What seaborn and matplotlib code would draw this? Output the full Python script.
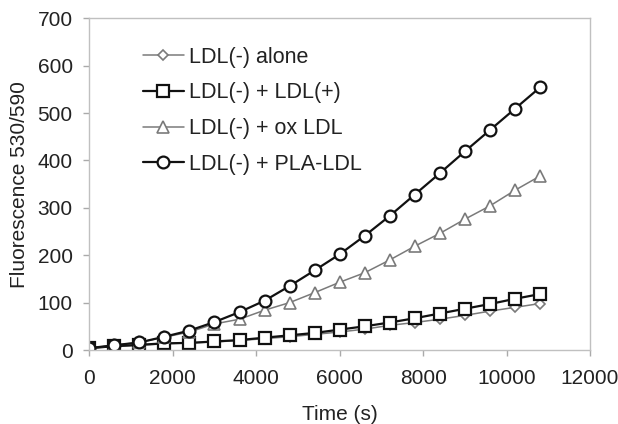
import matplotlib
matplotlib.use("Agg")
import matplotlib.pyplot as plt
import seaborn as sns
import numpy as np

sns.set_style("ticks")
plt.rcParams['font.family'] = ['Liberation Sans', 'DejaVu Sans']

time_s = [0, 600, 1200, 1800, 2400, 3000, 3600, 4200, 4800, 5400, 6000,
          6600, 7200, 7800, 8400, 9000, 9600, 10200, 10800]
ldl_alone = [4, 7, 10, 13, 15, 17, 20, 24, 28, 33, 38, 44, 52, 58, 65, 73, 82, 90, 98]
ldl_plus = [4, 8, 11, 14, 15, 18, 21, 26, 31, 36, 43, 50, 58, 67, 77, 87, 97, 108, 118]
ldl_ox = [4, 10, 16, 27, 38, 55, 65, 84, 100, 121, 143, 163, 190, 219, 246, 276, 304, 337, 367]
ldl_pla = [4, 10, 16, 28, 41, 59, 80, 104, 135, 168, 202, 241, 283, 328, 373, 419, 464, 509, 554]

labels = ["LDL(-) alone", "LDL(-) + LDL(+)", "LDL(-) + ox LDL", "LDL(-) + PLA-LDL"]
series = [ldl_alone, ldl_plus, ldl_ox, ldl_pla]
markers = ["D", "s", "^", "o"]
colors = ["#7a7a7a", "#111111", "#7a7a7a", "#111111"]
lws = [1.1, 1.6, 1.1, 1.6]
msizes = [5.5, 8, 8, 8.5]
mews = [1.2, 1.6, 1.2, 1.6]

fig = plt.figure(figsize=(6.18, 4.24), dpi=100)
ax = fig.add_axes([89.3 / 618, 1 - 350 / 424, (590 - 89.3) / 618, (350 - 18.3) / 424])

for lab, vals, mk, c, lw, ms, mew in zip(labels, series, markers, colors, lws, msizes, mews):
    sns.lineplot(x=time_s, y=vals, ax=ax, label=lab, color=c, linewidth=lw,
                 marker=mk, markersize=ms, markerfacecolor="white",
                 markeredgecolor=c, markeredgewidth=mew)

ax.set_xlim(0, 12000)
ax.set_ylim(0, 700)
ax.set_xticks(np.arange(0, 12001, 2000))
ax.set_yticks(np.arange(0, 701, 100))
ax.set_xlabel("Time (s)", fontsize=15, color="#222222", labelpad=12)
ax.set_ylabel("Fluorescence 530/590", fontsize=15, color="#222222", labelpad=6)
ax.tick_params(axis="both", labelsize=15, labelcolor="#222222", color="#aaaaaa",
               length=4, width=1, direction="out")
ax.tick_params(axis="x", pad=10)
ax.tick_params(axis="y", pad=8)
for sp in ax.spines.values():
    sp.set_visible(True)
    sp.set_color("#c0c0c0")
    sp.set_linewidth(1.0)

leg = ax.legend(loc="upper left", bbox_to_anchor=(0.09, 0.94), frameon=False,
                fontsize=15.5, handlelength=1.9, handletextpad=0.25,
                labelspacing=0.68, borderaxespad=0)
for t in leg.get_texts():
    t.set_color("#222222")

fig.savefig("out.png", dpi=100)
